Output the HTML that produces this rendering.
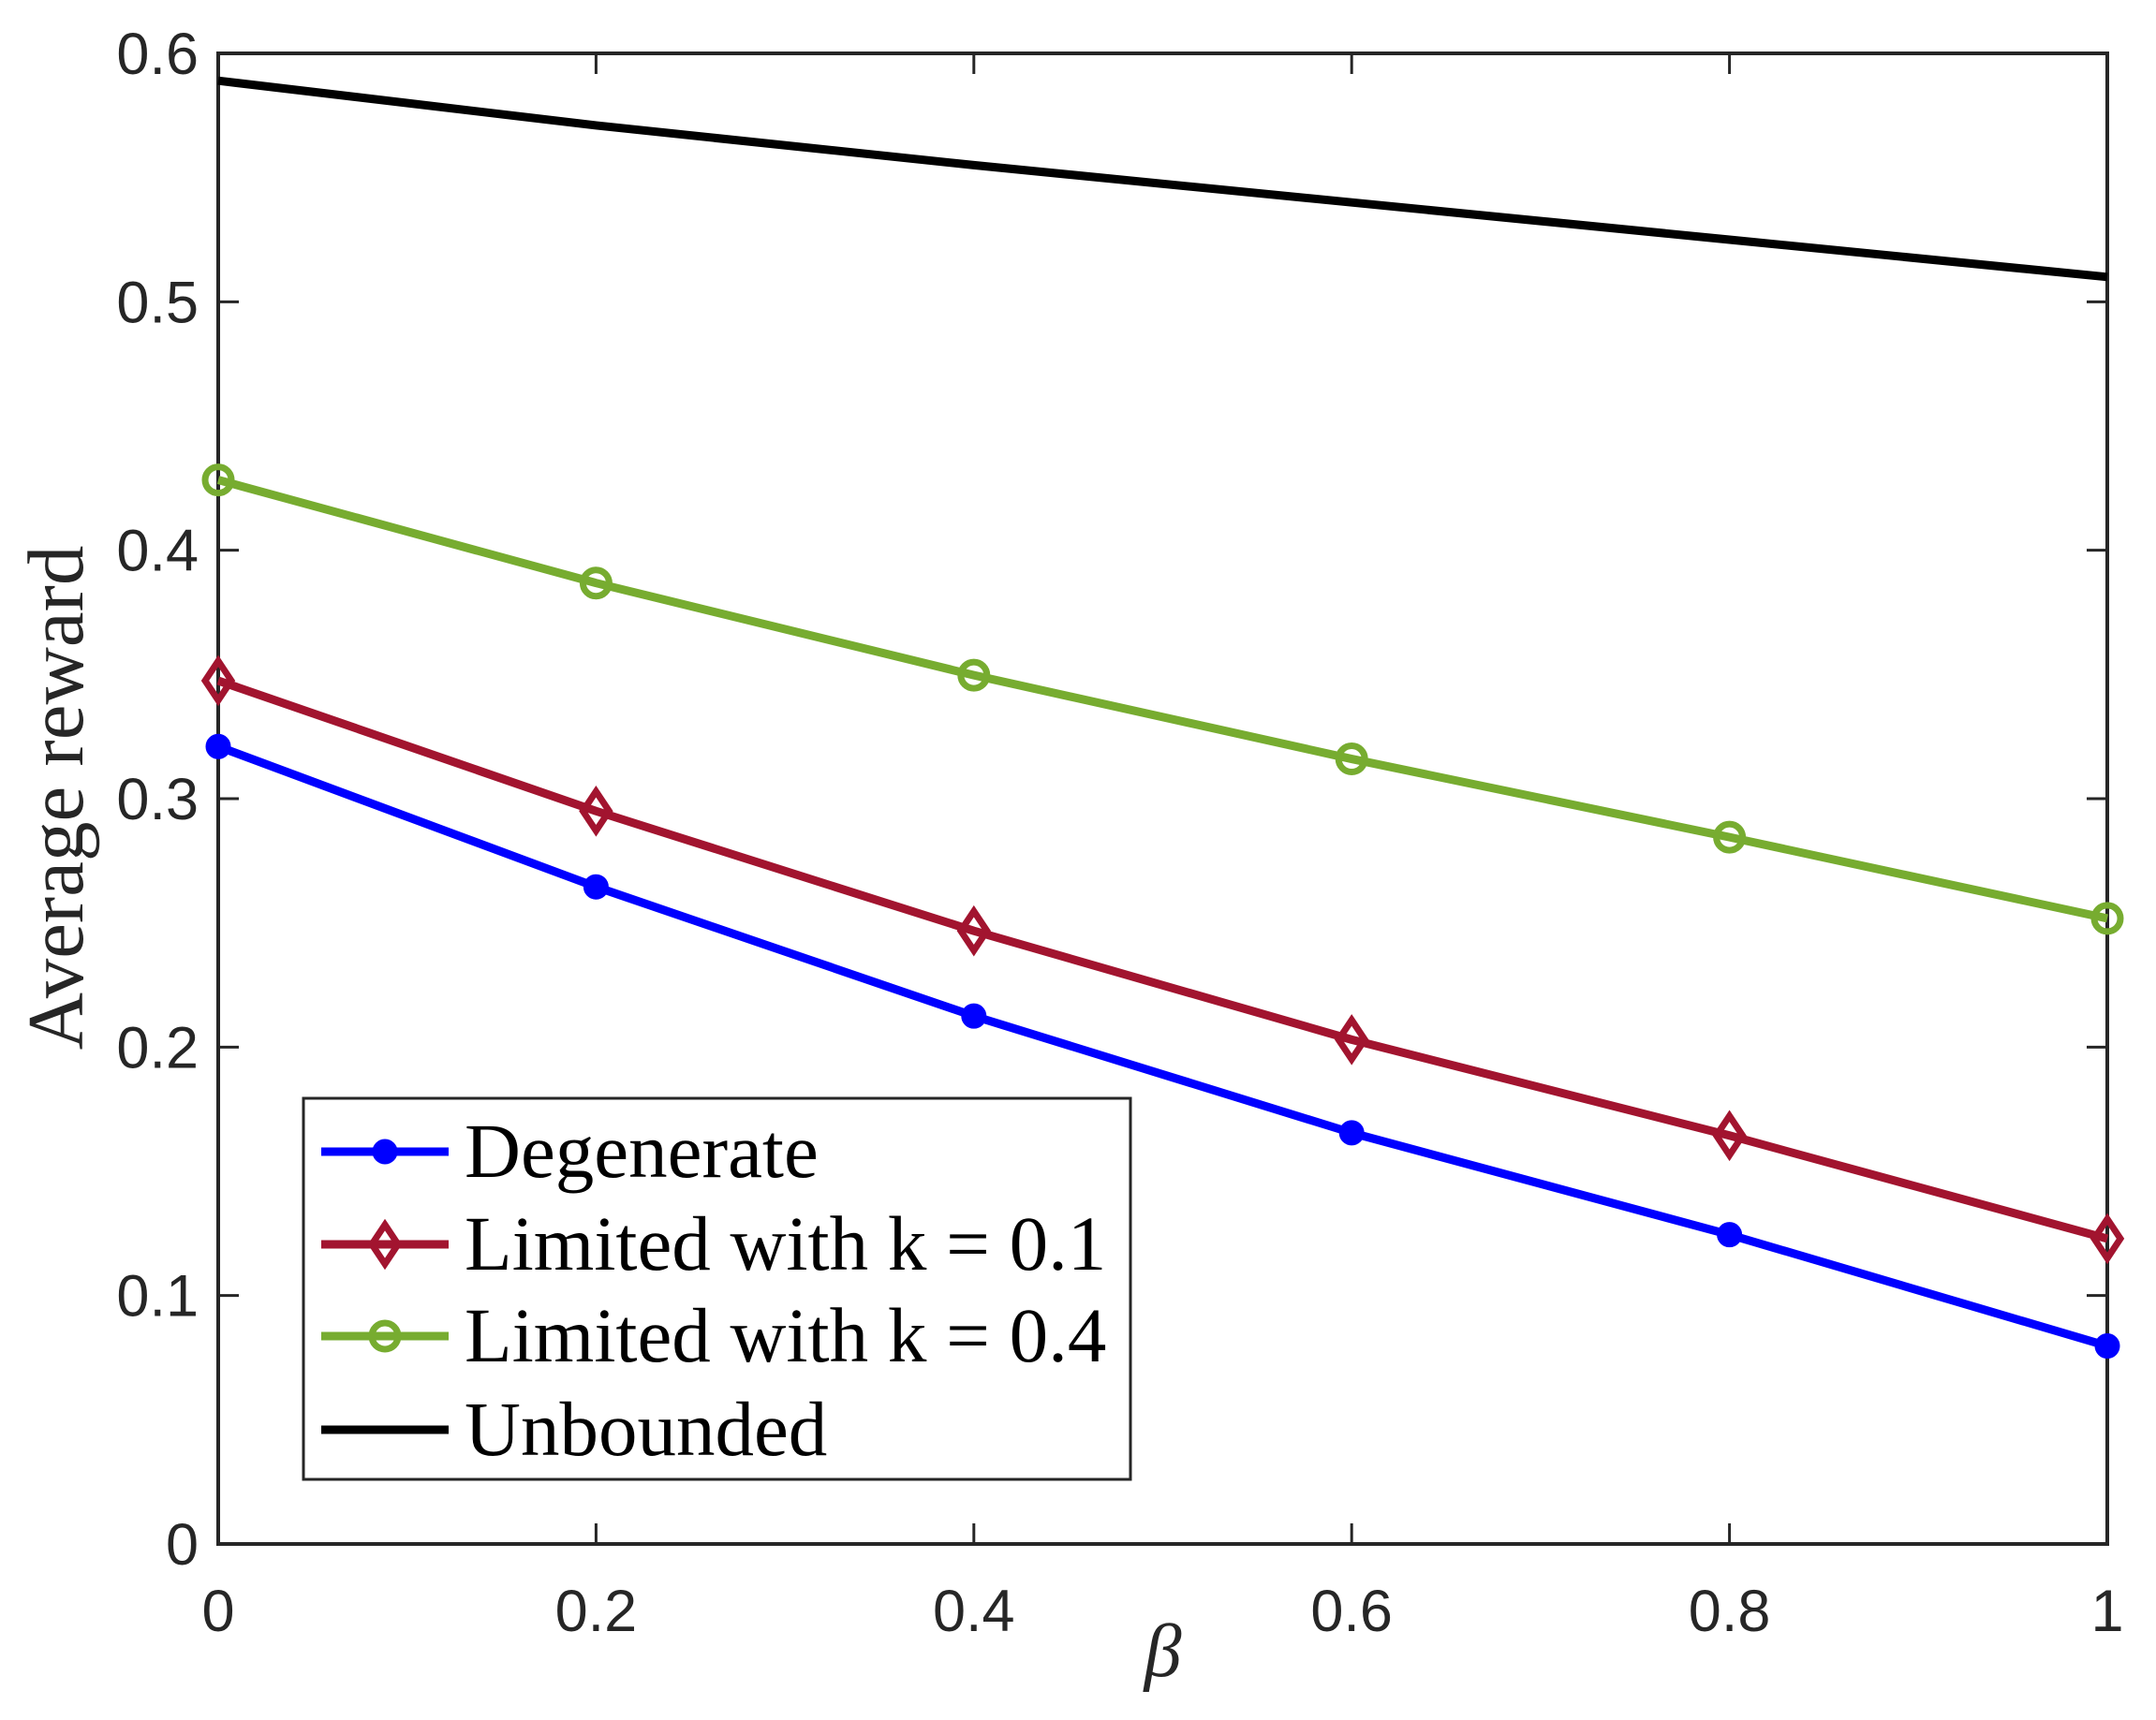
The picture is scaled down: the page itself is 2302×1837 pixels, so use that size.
<!DOCTYPE html>
<html><head><meta charset="utf-8"><style>body{margin:0;background:#fff}svg{display:block}</style></head>
<body>
<svg id="chart" width="2302" height="1837" viewBox="0 0 2302 1837" xmlns="http://www.w3.org/2000/svg">
<rect width="2302" height="1837" fill="#fff"/>
<g id="grid"></g><g id="series"></g><g id="legend"></g>
</svg>
<script>
const xVals=[0,0.2,0.4,0.6,0.8,1];
const degenerate=[0.321,0.2645,0.2125,0.1655,0.1245,0.0797];
const limited01=[0.3475,0.295,0.2468,0.203,0.1644,0.1229];
const limited04=[0.4283,0.3868,0.3497,0.316,0.2845,0.2518];
const unbounded=[0.589,0.571,0.555,0.540,0.525,0.510];
const xTicks=[0,0.2,0.4,0.6,0.8,1];
const xTickLabels=["0","0.2","0.4","0.6","0.8","1"];
const yTicks=[0,0.1,0.2,0.3,0.4,0.5,0.6];
const yTickLabels=["0","0.1","0.2","0.3","0.4","0.5","0.6"];
const legendLabels=["Degenerate","Limited with k = 0.1","Limited with k = 0.4","Unbounded"];

const NS="http://www.w3.org/2000/svg";
const L=233,R=2250,T=57,B=1649;
const sx=v=>L+(v-0)/(1-0)*(R-L);
const sy=v=>B-(v-0)/(0.6-0)*(B-T);
function mk(tag,at,parent){const e=document.createElementNS(NS,tag);for(const k in at)e.setAttribute(k,at[k]);parent.appendChild(e);return e;}
const grid=document.getElementById('grid'),ser=document.getElementById('series'),leg=document.getElementById('legend');
const tickFont='"Liberation Sans", sans-serif';
xTicks.forEach((v,i)=>{
  let t=mk('line',{x1:sx(v),x2:sx(v),y1:B,y2:B-22,stroke:'#262626','stroke-width':3},grid);
  
  let t2=mk('line',{x1:sx(v),x2:sx(v),y1:T,y2:T+22,stroke:'#262626','stroke-width':3},grid);
  
  let lb=mk('text',{x:sx(v),y:B+93,'text-anchor':'middle','font-size':63,'font-family':tickFont,fill:'#262626'},grid);
  lb.textContent=xTickLabels[i];
  
});
yTicks.forEach((v,i)=>{
  let t=mk('line',{x1:L,x2:L+22,y1:sy(v),y2:sy(v),stroke:'#262626','stroke-width':3},grid);
  
  let t2=mk('line',{x1:R,x2:R-22,y1:sy(v),y2:sy(v),stroke:'#262626','stroke-width':3},grid);
  
  let lb=mk('text',{x:L-21,y:sy(v)+22,'text-anchor':'end','font-size':63,'font-family':tickFont,fill:'#262626'},grid);
  lb.textContent=yTickLabels[i];
  
});
let ax=mk('rect',{x:L,y:T,width:R-L,height:B-T,fill:'none',stroke:'#262626','stroke-width':4},grid);

let yl=mk('text',{x:0,y:0,transform:`translate(88,852) rotate(-90)`,'text-anchor':'middle','font-size':85,'font-family':'"Liberation Serif", serif',fill:'#262626'},grid);
yl.textContent='Average reward';

let xl=mk('text',{x:(L+R)/2,y:1790,'text-anchor':'middle','font-size':80,'font-style':'italic','font-family':'"Liberation Serif", serif',fill:'#262626'},grid);
xl.textContent='β';


function marker(type,x,y,color,parent){
  let e;
  if(type==='dot') e=mk('circle',{cx:x,cy:y,r:12,fill:color,stroke:color,'stroke-width':3},parent);
  else if(type==='circle') e=mk('circle',{cx:x,cy:y,r:14,fill:'none',stroke:color,'stroke-width':7},parent);
  else if(type==='diamond') e=mk('polygon',{points:`${x},${y-21} ${x+14},${y} ${x},${y+21} ${x-14},${y}`,fill:'none',stroke:color,'stroke-width':7},parent);
  return e;
}
const seriesDefs=[
  {name:'degenerate',data:degenerate,color:'#0000ff',m:'dot'},
  {name:'limited-k01',data:limited01,color:'#a2142f',m:'diamond'},
  {name:'limited-k04',data:limited04,color:'#77ac30',m:'circle'},
  {name:'unbounded',data:unbounded,color:'#000000',m:null}
];
seriesDefs.forEach(s=>{
  const g=mk('g',{},ser);
  
  const pl=mk('polyline',{points:s.data.map((v,i)=>sx(xVals[i])+','+sy(v)).join(' '),fill:'none',stroke:s.color,'stroke-width':9,'stroke-linejoin':'round'},g);
  
  if(s.m) s.data.forEach((v,i)=>{const m=marker(s.m,sx(xVals[i]),sy(v),s.color,g);
    });
});
let lb=mk('rect',{x:324,y:1173,width:883,height:407,fill:'#fff',stroke:'#262626','stroke-width':3},leg);

const ly=[1230,1329,1427,1527];
seriesDefs.forEach((s,i)=>{
  const g=mk('g',{},leg);
  
  mk('line',{x1:343,x2:479,y1:ly[i],y2:ly[i],stroke:s.color,'stroke-width':9},g);
  if(s.m) marker(s.m,411,ly[i],s.color,g);
  const t=mk('text',{x:496,y:ly[i]+27,'font-size':83,'font-family':'"Liberation Serif", serif',fill:'#000'},g);
  t.textContent=legendLabels[i];
});
</script>
</body></html>
